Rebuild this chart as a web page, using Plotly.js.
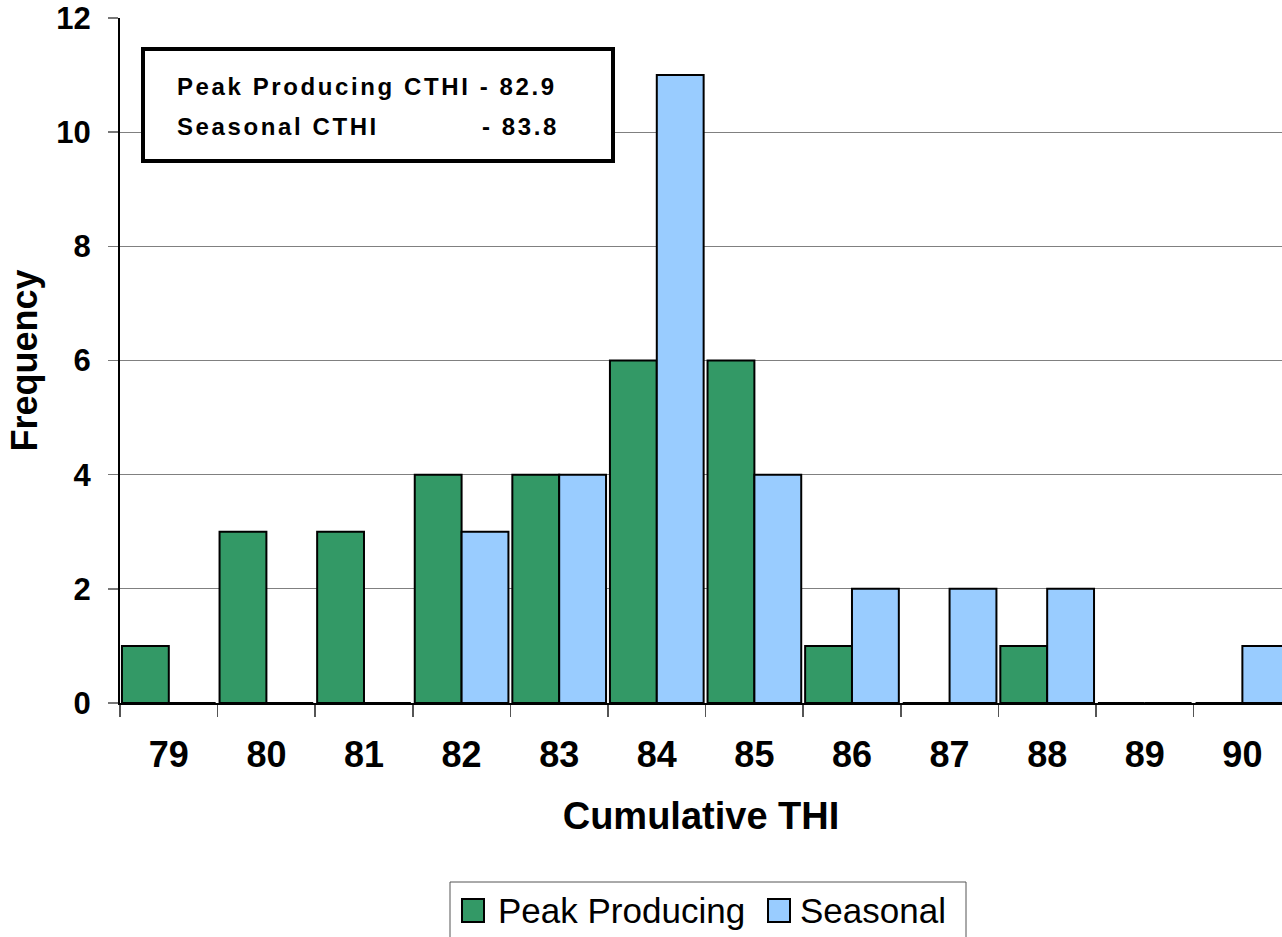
<!DOCTYPE html>
<html>
<head>
<meta charset="utf-8">
<script src="https://cdn.plot.ly/plotly-3.0.1.min.js"></script>
<style>
  html, body { margin: 0; padding: 0; background: #fff; }
  #chart { width: 1282px; height: 937px; }
  .annotation[data-index="0"] text,
  .annotation[data-index="1"] text,
  .annotation[data-index="2"] text { letter-spacing: 2.6px; }
</style>
</head>
<body>
<div id="chart"></div>
<script>
// ---- data ----
const categories = ["79", "80", "81", "82", "83", "84", "85", "86", "87", "88", "89", "90"];
const peakProducing = [1, 3, 3, 4, 4, 6, 6, 1, 0, 1, 0, 0];
const seasonal = [0, 0, 0, 3, 4, 11, 4, 2, 2, 2, 0, 1];
const seriesNames = ["Peak Producing", "Seasonal"];
const boxLines = ["Peak Producing CTHI - 82.9", "Seasonal CTHI", "- 83.8"];

// ---- layout helpers (pixel -> paper) ----
const L = 120, T = 18, W = 1162, H = 685;
const xp = px => (px - L) / W;
const yp = py => (T + H - py) / H;

const FONT = '"Liberation Sans", Arial, Helvetica, sans-serif';
const green = '#339966', blue = '#99CCFF';

const traces = [
  { type: 'bar', name: seriesNames[0], x: categories, y: peakProducing,
    marker: { color: green, line: { color: '#000', width: 2 } }, hoverinfo: 'x+y' },
  { type: 'bar', name: seriesNames[1], x: categories, y: seasonal,
    marker: { color: blue, line: { color: '#000', width: 2 } }, hoverinfo: 'x+y' }
];

const layout = {
  width: 1282, height: 937,
  margin: { l: L, r: 1282 - L - W, t: T, b: 937 - T - H, pad: 0 },
  paper_bgcolor: '#fff', plot_bgcolor: '#fff',
  showlegend: false,
  barmode: 'group', bargap: 0.04, bargroupgap: 0,
  font: { family: FONT, color: '#000' },
  xaxis: {
    type: 'category', categoryorder: 'array', categoryarray: categories,
    range: [-0.5, 11.406],
    tickson: 'boundaries', ticks: 'outside', ticklen: 12, tickwidth: 1.5, tickcolor: '#555',
    showline: true, linecolor: '#000', linewidth: 2,
    showgrid: false, zeroline: false,
    tickfont: { family: FONT, size: 36, weight: 700, color: '#000' },
    ticklabelstandoff: 19,
    title: { text: 'Cumulative THI', font: { family: FONT, size: 38, weight: 700, color: '#000' }, standoff: 28 },
    automargin: false, fixedrange: true
  },
  yaxis: {
    range: [0, 12], dtick: 2, tick0: 0,
    ticks: 'outside', ticklen: 10, tickwidth: 1.5, tickcolor: '#777',
    showline: true, linecolor: '#000', linewidth: 2,
    showgrid: true, gridcolor: '#808080', gridwidth: 1,
    zeroline: false,
    tickfont: { family: FONT, size: 31, weight: 700, color: '#000' },
    ticklabelstandoff: 11,
    title: { text: 'Frequency', font: { family: FONT, size: 36, weight: 700, color: '#000' }, standoff: 8 },
    automargin: false, fixedrange: true
  },
  shapes: [
    // info box
    { type: 'rect', xref: 'paper', yref: 'paper', x0: xp(143), x1: xp(613), y0: yp(49), y1: yp(161),
      line: { color: '#000', width: 4 }, fillcolor: '#fff', layer: 'above' },
    // legend box
    { type: 'rect', xref: 'paper', yref: 'paper', x0: xp(450), x1: xp(966), y0: yp(882), y1: yp(950),
      line: { color: '#555', width: 1 }, fillcolor: 'rgba(0,0,0,0)' },
    { type: 'rect', xref: 'paper', yref: 'paper', x0: xp(462), x1: xp(484), y0: yp(899), y1: yp(922),
      line: { color: '#000', width: 2 }, fillcolor: green },
    { type: 'rect', xref: 'paper', yref: 'paper', x0: xp(768), x1: xp(790), y0: yp(899), y1: yp(922),
      line: { color: '#000', width: 2 }, fillcolor: blue }
  ],
  annotations: [
    { xref: 'paper', yref: 'paper', x: xp(175), y: yp(86), xanchor: 'left', yanchor: 'middle', align: 'left',
      text: boxLines[0], showarrow: false, font: { family: FONT, size: 24, weight: 700, color: '#000' } },
    { xref: 'paper', yref: 'paper', x: xp(175), y: yp(126), xanchor: 'left', yanchor: 'middle', align: 'left',
      text: boxLines[1], showarrow: false, font: { family: FONT, size: 24, weight: 700, color: '#000' } },
    { xref: 'paper', yref: 'paper', x: xp(480), y: yp(126), xanchor: 'left', yanchor: 'middle', align: 'left',
      text: boxLines[2], showarrow: false, font: { family: FONT, size: 24, weight: 700, color: '#000' } },
    { xref: 'paper', yref: 'paper', x: xp(496), y: yp(910), xanchor: 'left', yanchor: 'middle', align: 'left',
      text: seriesNames[0], showarrow: false, font: { family: FONT, size: 35, color: '#000' } },
    { xref: 'paper', yref: 'paper', x: xp(798), y: yp(910), xanchor: 'left', yanchor: 'middle', align: 'left',
      text: seriesNames[1], showarrow: false, font: { family: FONT, size: 35, color: '#000' } }
  ]
};

Plotly.newPlot('chart', traces, layout, { displayModeBar: false, staticPlot: true });
</script>
</body>
</html>
